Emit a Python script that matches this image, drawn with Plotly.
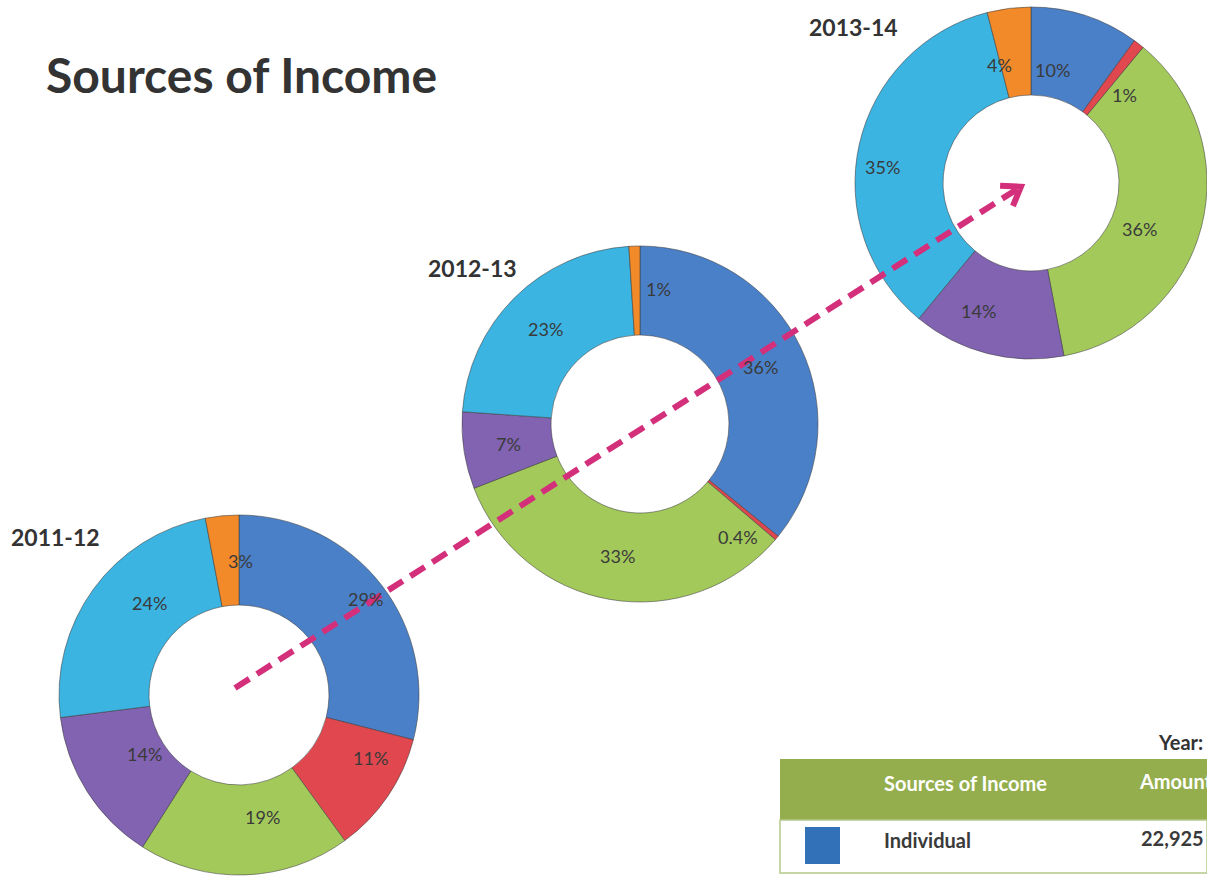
import math
import plotly.graph_objects as go

W, H = 1207, 877

# data
sources = ["Individual", "Corporate", "Foundations", "Events", "Institutional", "Others"]
colors = ["#4a80c8", "#e0474f", "#a3c95a", "#8163b2", "#3bb4e2", "#f28a2a"]
years = ["2011-12", "2012-13", "2013-14"]
share_2011 = [29, 11, 19, 14, 24, 3]
share_2012 = [36, 0.4, 33, 7, 23, 1]
share_2013 = [10, 1, 36, 14, 35, 4]
shares = [share_2011, share_2012, share_2013]

table_header = ["Sources of Income", "Amount"]
table_rows = [("Individual", "22,925")]
table_year = "Year: 2013-14"

# layout (pixel centre, outer radius, year label anchor)
centres = [(239, 695), (640, 424), (1031, 183)]
radii = [180, 178, 176]
year_pos = [(9, 537), (426, 268), (807, 27)]

TEXT = "#3a3a3a"
FONT = "Lato"


def px(x, y):
    return x / W, 1 - y / H


fig = go.Figure()
annotations = []

for vals, (cx, cy), r, year, (yx, yy) in zip(shares, centres, radii, years, year_pos):
    x0, y1 = px(cx - r, cy - r)
    x1, y0 = px(cx + r, cy + r)
    fig.add_trace(go.Pie(
        labels=sources, values=vals, sort=False, direction="clockwise", rotation=0,
        hole=0.5, textinfo="none", showlegend=False,
        marker=dict(colors=colors, line=dict(color="rgba(60,60,60,0.55)", width=1)),
        domain=dict(x=[max(x0, 0), min(x1, 1)], y=[max(y0, 0), min(y1, 1)]),
    ))
    total = sum(vals)
    acc = 0
    for v in vals:
        mid = (acc + v / 2) / total * 360
        acc += v
        rr = 0.75 * r
        if v < 2:
            # thin slices: label sits just clockwise of the slice
            mid += 9
            rr = 0.84 * r
        a = math.radians(mid)
        lx, ly = px(cx + rr * math.sin(a), cy - rr * math.cos(a))
        annotations.append(dict(x=lx, y=ly, xref="paper", yref="paper", showarrow=False,
                                text=f"{v:g}%", font=dict(family=FONT, size=18, color=TEXT)))
    ax_, ay_ = px(yx, yy)
    annotations.append(dict(x=ax_, y=ay_, xref="paper", yref="paper", showarrow=False,
                            xanchor="left", yanchor="middle", text=f"<b>{year}</b>",
                            font=dict(family=FONT, size=23, color="#333333")))

# title
tx, ty = px(44, 75)
annotations.append(dict(x=tx, y=ty, xref="paper", yref="paper", showarrow=False,
                        xanchor="left", yanchor="middle", text="<b>Sources of Income</b>",
                        font=dict(family=FONT, size=48, color="#333333")))

# dashed growth arrow from first donut centre towards the last one
(sx, sy), (ex, ey) = centres[0], centres[-1]
sx, sy = sx - 4, sy - 7
dx, dy = ex - sx, ey - sy
L = math.hypot(dx, dy)
ux, uy = dx / L, dy / L
tipx, tipy = ex - 12 * ux, ey - 7 * uy
nx, ny = -uy, ux
MAG = "#d42f7b"
shapes = []
lx0, ly0 = px(sx, sy)
lx1, ly1 = px(tipx - 4 * ux, tipy - 4 * uy)
shapes.append(dict(type="line", xref="paper", yref="paper", x0=lx0, y0=ly0, x1=lx1, y1=ly1,
                   line=dict(color=MAG, width=6, dash="17px,9px")))
arm = []
for s in (1, -1):
    arm.append(px(tipx - 17 * ux + s * 12 * nx, tipy - 17 * uy + s * 12 * ny))
tp = px(tipx, tipy)
path = f"M{arm[0][0]},{arm[0][1]} L{tp[0]},{tp[1]} L{arm[1][0]},{arm[1][1]}"
shapes.append(dict(type="path", xref="paper", yref="paper", path=path,
                   line=dict(color=MAG, width=6)))

# table fragment (bottom right)
GREEN = "#94ae4e"
hx0, hy0 = px(780, 820)
hx1, hy1 = px(1207, 759)
shapes.append(dict(type="rect", xref="paper", yref="paper", x0=hx0, y0=hy0, x1=hx1, y1=hy1,
                   fillcolor=GREEN, line=dict(width=0), layer="below"))
rx0, ry0 = px(780, 873)
rx1, ry1 = px(1207, 820)
shapes.append(dict(type="rect", xref="paper", yref="paper", x0=rx0, y0=ry0, x1=rx1, y1=ry1,
                   fillcolor="white", line=dict(color="#b5c98a", width=1.5), layer="below"))
bx0, by0 = px(805, 864)
bx1, by1 = px(840, 827)
shapes.append(dict(type="rect", xref="paper", yref="paper", x0=bx0, y0=by0, x1=bx1, y1=by1,
                   fillcolor="#3271b8", line=dict(width=0)))

for text, x, y, col in [(table_header[0], 882, 783, "white"), (table_header[1], 1137, 781, "white"),
                        (table_rows[0][0], 882, 840, TEXT), (table_rows[0][1], 1139, 838, TEXT),
                        (table_year, 1156, 742, "#333333")]:
    ax_, ay_ = px(x, y)
    annotations.append(dict(x=ax_, y=ay_, xref="paper", yref="paper", showarrow=False,
                            xanchor="left", yanchor="middle", text=f"<b>{text}</b>",
                            font=dict(family=FONT, size=20, color=col)))

fig.update_layout(width=W, height=H, margin=dict(l=0, r=0, t=0, b=0),
                  paper_bgcolor="white", plot_bgcolor="white",
                  annotations=annotations, shapes=shapes)

fig.write_html("out.html", config={"displayModeBar": False},
               post_script="document.body.style.margin='0';document.body.style.overflow='hidden';")
